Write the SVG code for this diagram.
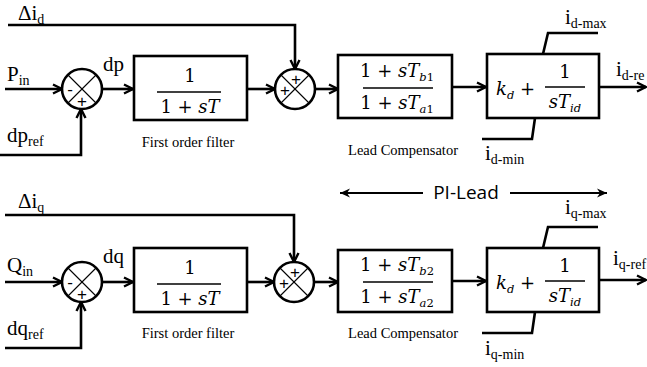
<svg xmlns="http://www.w3.org/2000/svg" width="647" height="367" viewBox="0 0 647 367">
<style>
.ln{fill:none;stroke:#000;stroke-width:2.6}
.arr{marker-end:url(#ah)}
.box{fill:#fff;stroke:#000;stroke-width:2.6}
.sum{fill:#fff;stroke:#000;stroke-width:2.6}
.x{stroke:#000;stroke-width:1.1}
.lbl{font-family:"Liberation Serif","Times New Roman",serif;font-size:21px;fill:#000}
.sub{font-size:14px}
.cap{font-family:"Liberation Serif","Times New Roman",serif;font-size:14.5px;fill:#000}
.m{font-family:"DejaVu Serif","Liberation Serif",serif;font-size:18px;fill:#000}
.mi{font-style:italic}
.ms{font-size:11.5px}
.sg{font-family:"Liberation Sans",Arial,sans-serif;font-size:17px;fill:#000}
.pi{font-family:"Open Sans","Liberation Sans",sans-serif;font-size:19px;fill:#000}
</style>
<defs>
<marker id="ah" markerUnits="userSpaceOnUse" markerWidth="14" markerHeight="14" refX="11" refY="6" orient="auto">
<path d="M2,1.5 L11,6 L2,10.5" fill="none" stroke="#000" stroke-width="2.4"/>
</marker>
<marker id="ah2" markerUnits="userSpaceOnUse" markerWidth="14" markerHeight="14" refX="11" refY="6" orient="auto-start-reverse">
<path d="M1,1.5 L11,6 L1,10.5 L4,6 Z" fill="#000"/>
</marker>
</defs>

<g id="connectors">
<path class="ln arr" d="M8,25 H295 V69"/>
<path class="ln arr" d="M5,89 H62"/>
<path class="ln arr" d="M0,155 H81 V109"/>
<path class="ln arr" d="M102,89 H133"/>
<path class="ln arr" d="M247,89 H275"/>
<path class="ln arr" d="M315,89 H338"/>
<path class="ln arr" d="M452,87 H486"/>
<path class="ln arr" d="M599,87 H646"/>
<path class="ln" d="M543,54 L548,33 H598"/>
<path class="ln" d="M535,118 L532,139 H482"/>
<path class="ln arr" d="M5,215 H294 V262"/>
<path class="ln arr" d="M5,282 H62"/>
<path class="ln arr" d="M5,348 H81 V302"/>
<path class="ln arr" d="M102,282 H133"/>
<path class="ln arr" d="M247,282 H274"/>
<path class="ln arr" d="M314,282 H338"/>
<path class="ln arr" d="M452,281 H486"/>
<path class="ln arr" d="M599,280 H646"/>
<path class="ln" d="M543,248 L548,227 H598"/>
<path class="ln" d="M535,312 L532,333 H482"/>
<path d="M423,193 H340" fill="none" stroke="#000" stroke-width="2" marker-end="url(#ah2)"/>
<path d="M510,193 H607" fill="none" stroke="#000" stroke-width="2" marker-end="url(#ah2)"/>
</g>

<g id="labels">
<text class="lbl" x="18" y="20">Δi<tspan class="sub" dy="4">d</tspan></text>
<text class="lbl" x="7" y="81">P<tspan class="sub" dy="4">in</tspan></text>
<text class="lbl" x="7" y="142">dp<tspan class="sub" dy="4">ref</tspan></text>
<text class="lbl" x="103" y="71">dp</text>
<text class="lbl" x="565" y="24">i<tspan class="sub" dy="4">d-max</tspan></text>
<text class="lbl" x="485" y="160">i<tspan class="sub" dy="4">d-min</tspan></text>
<text class="lbl" x="616" y="76">i<tspan class="sub" dy="4">d-re</tspan></text>

<text class="lbl" x="18" y="208">Δi<tspan class="sub" dy="4">q</tspan></text>
<text class="lbl" x="7" y="272">Q<tspan class="sub" dy="4">in</tspan></text>
<text class="lbl" x="7" y="335">dq<tspan class="sub" dy="4">ref</tspan></text>
<text class="lbl" x="103" y="263">dq</text>
<text class="lbl" x="565" y="214">i<tspan class="sub" dy="4">q-max</tspan></text>
<text class="lbl" x="485" y="355">i<tspan class="sub" dy="4">q-min</tspan></text>
<text class="lbl" x="613" y="265">i<tspan class="sub" dy="4">q-ref</tspan></text>

<text class="pi" x="466" y="199" text-anchor="middle">PI-Lead</text>
</g>

<g id="sum1">
<circle class="sum" cx="82" cy="89" r="20"/>
<line class="x" x1="68" y1="75" x2="96" y2="103"/>
<line class="x" x1="96" y1="75" x2="68" y2="103"/>
<text class="sg" x="70" y="95" text-anchor="middle">-</text>
<text class="sg" x="82" y="107" text-anchor="middle">+</text>
</g>

<g id="filter1">
<rect class="box" x="134" y="56" width="113" height="64"/>
<text class="m" x="190" y="82" text-anchor="middle">1</text>
<line x1="157" y1="92" x2="221" y2="92" stroke="#000" stroke-width="1.3"/>
<text class="m" x="190" y="113" text-anchor="middle">1 + <tspan class="mi">sT</tspan></text>
<text class="cap" x="188" y="147" text-anchor="middle">First order filter</text>
</g>

<g id="sum2">
<circle class="sum" cx="295" cy="89" r="20"/>
<line class="x" x1="281" y1="75" x2="309" y2="103"/>
<line class="x" x1="309" y1="75" x2="281" y2="103"/>
<text class="sg" x="296" y="85" text-anchor="middle">+</text>
<text class="sg" x="285" y="96" text-anchor="middle">+</text>
</g>

<g id="lead1">
<rect class="box" x="338" y="55" width="114" height="63"/>
<text class="m" x="397" y="77" text-anchor="middle">1 + <tspan class="mi">sT</tspan><tspan class="ms" dy="4"><tspan class="mi">b</tspan>1</tspan></text>
<line x1="363" y1="88" x2="433" y2="88" stroke="#000" stroke-width="1.3"/>
<text class="m" x="397" y="109" text-anchor="middle">1 + <tspan class="mi">sT</tspan><tspan class="ms" dy="4"><tspan class="mi">a</tspan>1</tspan></text>
<text class="cap" x="403" y="155" text-anchor="middle">Lead Compensator</text>
</g>

<g id="pi1">
<rect class="box" x="487" y="54" width="112" height="64"/>
<text class="m" x="496" y="95"><tspan class="mi">k</tspan><tspan class="ms mi" dy="4">d</tspan><tspan dy="-4"> +</tspan></text>
<text class="m" x="565" y="78" text-anchor="middle">1</text>
<line x1="545" y1="87" x2="585" y2="87" stroke="#000" stroke-width="1.3"/>
<text class="m" x="565" y="108" text-anchor="middle"><tspan class="mi">sT</tspan><tspan class="ms mi" dy="4">id</tspan></text>
</g>

<g id="sum3">
<circle class="sum" cx="82" cy="282" r="20"/>
<line class="x" x1="68" y1="268" x2="96" y2="296"/>
<line class="x" x1="96" y1="268" x2="68" y2="296"/>
<text class="sg" x="70" y="288" text-anchor="middle">-</text>
<text class="sg" x="82" y="300" text-anchor="middle">+</text>
</g>

<g id="filter2">
<rect class="box" x="134" y="248" width="113" height="64"/>
<text class="m" x="190" y="274" text-anchor="middle">1</text>
<line x1="157" y1="284" x2="221" y2="284" stroke="#000" stroke-width="1.3"/>
<text class="m" x="190" y="305" text-anchor="middle">1 + <tspan class="mi">sT</tspan></text>
<text class="cap" x="188" y="338" text-anchor="middle">First order filter</text>
</g>

<g id="sum4">
<circle class="sum" cx="294" cy="282" r="20"/>
<line class="x" x1="280" y1="268" x2="308" y2="296"/>
<line class="x" x1="308" y1="268" x2="280" y2="296"/>
<text class="sg" x="295" y="278" text-anchor="middle">+</text>
<text class="sg" x="284" y="289" text-anchor="middle">+</text>
</g>

<g id="lead2">
<rect class="box" x="338" y="250" width="114" height="62"/>
<text class="m" x="397" y="271" text-anchor="middle">1 + <tspan class="mi">sT</tspan><tspan class="ms" dy="4"><tspan class="mi">b</tspan>2</tspan></text>
<line x1="363" y1="282" x2="433" y2="282" stroke="#000" stroke-width="1.3"/>
<text class="m" x="397" y="303" text-anchor="middle">1 + <tspan class="mi">sT</tspan><tspan class="ms" dy="4"><tspan class="mi">a</tspan>2</tspan></text>
<text class="cap" x="403" y="338" text-anchor="middle">Lead Compensator</text>
</g>

<g id="pi2">
<rect class="box" x="487" y="248" width="112" height="64"/>
<text class="m" x="496" y="289"><tspan class="mi">k</tspan><tspan class="ms mi" dy="4">d</tspan><tspan dy="-4"> +</tspan></text>
<text class="m" x="565" y="272" text-anchor="middle">1</text>
<line x1="545" y1="281" x2="585" y2="281" stroke="#000" stroke-width="1.3"/>
<text class="m" x="565" y="302" text-anchor="middle"><tspan class="mi">sT</tspan><tspan class="ms mi" dy="4">id</tspan></text>
</g>
</svg>
